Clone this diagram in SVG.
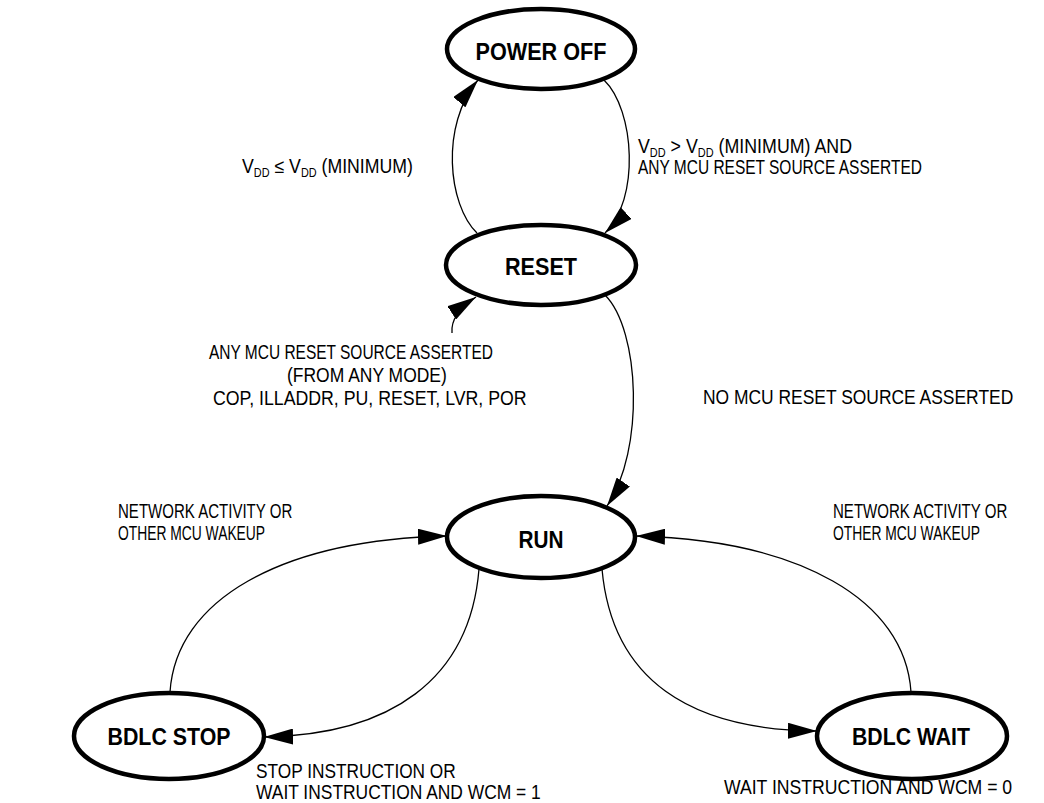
<svg xmlns="http://www.w3.org/2000/svg" width="1044" height="803" viewBox="0 0 1044 803">
<style>
.node ellipse{fill:#fff;stroke:#000;stroke-width:4.5}
.node text{font-family:"Liberation Sans",Arial,sans-serif;font-weight:bold;font-size:24px;text-anchor:middle;fill:#000}
.lbl{font-family:"Liberation Sans",Arial,sans-serif;font-size:19.5px;fill:#000}
.sub{font-size:12px}
#connectors path{fill:none;stroke:#000;stroke-width:1.3;marker-end:url(#arr)}
</style>
<defs>
<marker id="arr" markerUnits="userSpaceOnUse" markerWidth="30" markerHeight="16" refX="29" refY="8" orient="auto">
<path d="M0,0 L29,8 L0,16 z" fill="#000"/>
</marker>
</defs>
<rect width="1044" height="803" fill="#fff"/>
<g id="connectors">
<path d="M 477 233 C 448 205, 440 125, 478 80"/>
<path d="M 604 80 C 635 110, 640 200, 605 233"/>
<path d="M 452 333 C 451 322, 456 310, 476 297"/>
<path d="M 605 295 C 640 330, 645 450, 607 506"/>
<path d="M 170 692 C 176 600, 280 540, 447 536"/>
<path d="M 479 569 C 470 680, 390 735, 264 737"/>
<path d="M 911 692 C 905 600, 800 540, 636 536"/>
<path d="M 602 569 C 612 680, 690 730, 817 731"/>
</g>
<g id="power-off" class="node"><ellipse cx="541" cy="49" rx="94" ry="40"/><text x="541" y="60" textLength="131" lengthAdjust="spacingAndGlyphs">POWER OFF</text></g>
<g id="reset" class="node"><ellipse cx="541" cy="265" rx="95" ry="40"/><text x="541" y="275" textLength="72" lengthAdjust="spacingAndGlyphs">RESET</text></g>
<g id="run" class="node"><ellipse cx="541" cy="537" rx="94" ry="41"/><text x="541" y="548" textLength="45" lengthAdjust="spacingAndGlyphs">RUN</text></g>
<g id="bdlc-stop" class="node"><ellipse cx="169" cy="736" rx="95" ry="43"/><text x="169" y="745" textLength="123" lengthAdjust="spacingAndGlyphs">BDLC STOP</text></g>
<g id="bdlc-wait" class="node"><ellipse cx="912" cy="736" rx="95" ry="43"/><text x="911" y="745" textLength="118" lengthAdjust="spacingAndGlyphs">BDLC WAIT</text></g>
<g id="labels">
<text class="lbl" transform="translate(242,173) scale(0.908,1)">V<tspan class="sub" dy="4">DD</tspan><tspan dy="-4"> ≤ V</tspan><tspan class="sub" dy="4">DD</tspan><tspan dy="-4"> (MINIMUM)</tspan></text>
<text class="lbl" transform="translate(638,153) scale(0.913,1)">V<tspan class="sub" dy="4">DD</tspan><tspan dy="-4"> &gt; V</tspan><tspan class="sub" dy="4">DD</tspan><tspan dy="-4"> (MINIMUM) AND</tspan></text>
<text class="lbl" transform="translate(638,174) scale(0.85,1)" textLength="334" lengthAdjust="spacingAndGlyphs">ANY MCU RESET SOURCE ASSERTED</text>
<text class="lbl" transform="translate(209,359) scale(0.85,1)" textLength="334" lengthAdjust="spacingAndGlyphs">ANY MCU RESET SOURCE ASSERTED</text>
<text class="lbl" transform="translate(287,382) scale(0.85,1)" textLength="188" lengthAdjust="spacingAndGlyphs">(FROM ANY MODE)</text>
<text class="lbl" transform="translate(213,405) scale(0.85,1)" textLength="369" lengthAdjust="spacingAndGlyphs">COP, ILLADDR, PU, RESET, LVR, POR</text>
<text class="lbl" transform="translate(703,404) scale(0.85,1)" textLength="365" lengthAdjust="spacingAndGlyphs">NO MCU RESET SOURCE ASSERTED</text>
<text class="lbl" transform="translate(118,518) scale(0.85,1)" textLength="205" lengthAdjust="spacingAndGlyphs">NETWORK ACTIVITY OR</text>
<text class="lbl" transform="translate(118,540) scale(0.85,1)" textLength="173" lengthAdjust="spacingAndGlyphs">OTHER MCU WAKEUP</text>
<text class="lbl" transform="translate(833,518) scale(0.85,1)" textLength="205" lengthAdjust="spacingAndGlyphs">NETWORK ACTIVITY OR</text>
<text class="lbl" transform="translate(833,540) scale(0.85,1)" textLength="173" lengthAdjust="spacingAndGlyphs">OTHER MCU WAKEUP</text>
<text class="lbl" transform="translate(256,778) scale(0.85,1)" textLength="235" lengthAdjust="spacingAndGlyphs">STOP INSTRUCTION OR</text>
<text class="lbl" transform="translate(256,799) scale(0.85,1)" textLength="335" lengthAdjust="spacingAndGlyphs">WAIT INSTRUCTION AND WCM = 1</text>
<text class="lbl" transform="translate(724,794) scale(0.85,1)" textLength="339" lengthAdjust="spacingAndGlyphs">WAIT INSTRUCTION AND WCM = 0</text>
</g>
</svg>
